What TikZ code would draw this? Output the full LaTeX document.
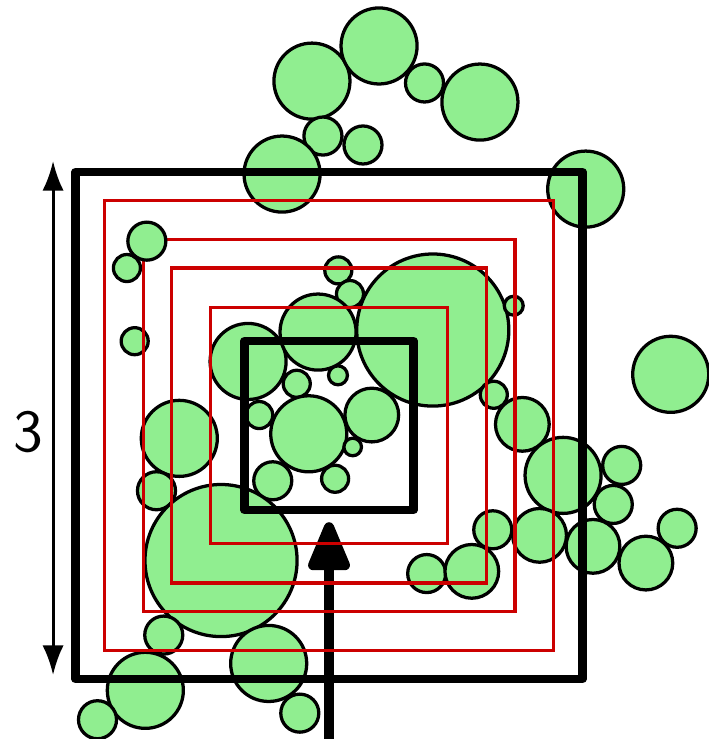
\documentclass[tikz,border=0pt]{standalone}
\usetikzlibrary{arrows.meta}

\definecolor{leafgreen}{HTML}{90EE90}
\definecolor{bandred}{HTML}{CC0000}

\begin{document}
\begin{tikzpicture}[
    disc/.style={draw=black, fill=leafgreen, line width=0.55pt},
    band/.style={draw=bandred, line width=0.55pt},
    wall/.style={draw=black, line width=1.45pt, line join=round},
  ]
  \useasboundingbox (-1.947,-1.855) rectangle (2.243,2.518);

  \coordinate (dimlo) at (-1.633,-1.476);
  \coordinate (dimhi) at (-1.633,1.565);
  \coordinate (entry) at (0,-1.95);
  \coordinate (goal)  at (0,-0.572);

  % discs: x / y / radius
  \foreach \x/\y/\r in {
      -0.101/2.038/0.225, 0.296/2.246/0.225, 0.565/2.027/0.1125,
      0.893/1.914/0.225, -0.036/1.713/0.1125, 0.201/1.660/0.1125,
      -0.278/1.488/0.225, 1.519/1.399/0.225, 0.614/0.565/0.45,
      1.093/0.709/0.056, 2.022/0.303/0.225, 0.975/0.182/0.08,
      1.144/0.007/0.159, -1.196/0.932/0.08, -1.150/0.499/0.08,
      0.055/0.918/0.08, 0.124/0.778/0.08, -0.479/0.379/0.225,
      -0.065/0.553/0.225, 0.053/0.297/0.056, -0.191/0.247/0.08,
      -0.413/0.062/0.08, -0.120/-0.049/0.225, 0.253/0.062/0.159,
      0.140/-0.127/0.052, -0.333/-0.327/0.1125, 0.036/-0.315/0.08,
      -0.886/-0.076/0.225, -1.021/-0.386/0.1125, -0.639/-0.799/0.45,
      1.385/-0.295/0.225, 1.732/-0.236/0.1125, 1.682/-0.467/0.1125,
      0.969/-0.617/0.1125, 1.246/-0.650/0.159, 1.562/-0.715/0.159,
      2.060/-0.608/0.1125, 1.875/-0.814/0.159, 0.578/-0.876/0.1125,
      0.845/-0.863/0.159, -0.978/-1.240/0.1125, -1.087/-1.567/0.225,
      -1.370/-1.741/0.1125, -0.357/-1.408/0.225, -0.173/-1.702/0.1125}
    \draw[disc] (\x,\y) circle (\r);

  % way in
  \draw[line width=1.7pt, -{Triangle[round,length=9.6pt,width=7.4pt]}] (entry) -- (goal);

  % red bands
  \foreach \s in {1.33,1.10,0.932,0.70}
    \draw[band] (-\s,-\s) rectangle (\s,\s);

  \draw[disc] (-1.078,1.091) circle (0.1125);

  % outer and inner walls
  \draw[wall] (-1.5,-1.5) rectangle (1.5,1.5);
  \draw[wall] (-0.5,-0.5) rectangle (0.5,0.5);

  % side length
  \draw[line width=0.5pt, {Latex[length=5pt,width=3.6pt]}-{Latex[length=5pt,width=3.6pt]}] (dimlo) -- (dimhi);
  \node (side) at (-1.78,-0.04) {\sffamily 3};
\end{tikzpicture}
\end{document}
